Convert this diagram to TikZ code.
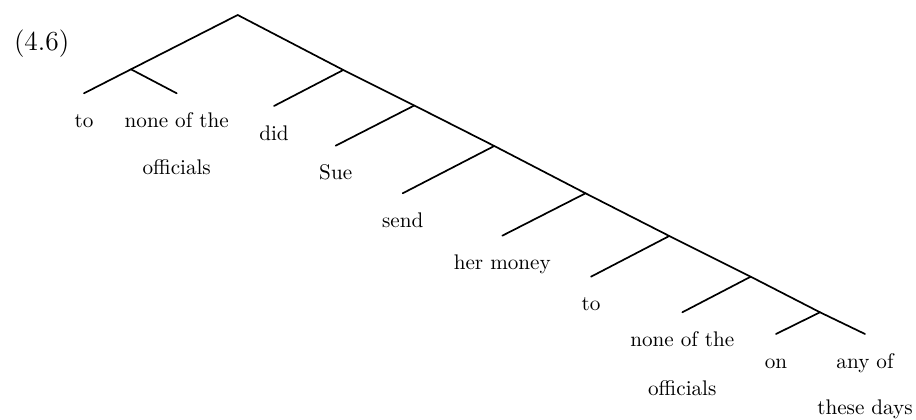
\documentclass[tikz,border=0pt]{standalone}
\usepackage{tikz}
\usetikzlibrary{calc,positioning}
\begin{document}
\begin{tikzpicture}[x=0.4727pt,y=-0.4727pt]

    \tikzstyle{word}=[anchor=base,inner sep=0pt,outer sep=0pt]
    \tikzstyle{branch}=[line width=0.8pt,line cap=round]
    \useasboundingbox (0,0) rectangle (916,420);

    % inner nodes of the tree
    \coordinate (root) at (237.7,15);
    \coordinate (N_pp) at (131,69.3);
    \coordinate (N_2) at (343.3,70);
    \coordinate (N_3) at (414.3,105.5);
    \coordinate (N_4) at (494.3,146);
    \coordinate (N_5) at (585.5,193.3);
    \coordinate (N_6) at (669.3,236);
    \coordinate (N_7) at (750.7,276.7);
    \coordinate (N_8) at (820,312.3);

    % leaves
    \coordinate (L_to) at (84,93.3);
    \coordinate (L_none) at (176.7,93.3);
    \coordinate (L_did) at (274,106);
    \coordinate (L_sue) at (335.7,145.7);
    \coordinate (L_send) at (402.7,193.3);
    \coordinate (L_money) at (502.3,235.7);
    \coordinate (L_to2) at (591,276.7);
    \coordinate (L_none2) at (682.3,312.3);
    \coordinate (L_on) at (776,334);
    \coordinate (L_any) at (865,334);

\node (ex_num) [word,font=\fontsize{13pt}{15pt}\selectfont] at (41.7,50.7) {(4.6)};

\draw[branch] (L_to) -- (N_pp) -- (root) -- (N_2) -- (N_3) -- (N_4) -- (N_5) -- (N_6) -- (N_7) -- (N_8) -- (L_any);
\draw[branch] (N_pp) -- (L_none);
\draw[branch] (N_2) -- (L_did);
\draw[branch] (N_3) -- (L_sue);
\draw[branch] (N_4) -- (L_send);
\draw[branch] (N_5) -- (L_money);
\draw[branch] (N_6) -- (L_to2);
\draw[branch] (N_7) -- (L_none2);
\draw[branch] (N_8) -- (L_on);

\node (W_to) [word,yshift=-16.2pt] at (L_to) {to};
\node (W_none) [word,yshift=-16.2pt] at (L_none) {none of the};
\node (W_off) [word,yshift=-22.3pt] at (W_none.base) {officials};
\node (W_did) [word,yshift=-16.2pt] at (L_did) {did};
\node (W_sue) [word,yshift=-16.2pt] at (L_sue) {Sue};
\node (W_send) [word,yshift=-16.2pt] at (L_send) {send};
\node (W_money) [word,yshift=-16.2pt] at (L_money) {her money};
\node (W_to2) [word,yshift=-16.2pt] at (L_to2) {to};
\node (W_none2) [word,yshift=-16.2pt] at (L_none2) {none of the};
\node (W_off2) [word,yshift=-23pt] at (W_none2.base) {officials};
\node (W_on) [word,yshift=-16.5pt] at (L_on) {on};
\node (W_any) [word,yshift=-16.5pt] at (L_any) {any of};
\node (W_days) [word,yshift=-21.5pt] at (W_any.base) {these days};

\end{tikzpicture}
\end{document}
